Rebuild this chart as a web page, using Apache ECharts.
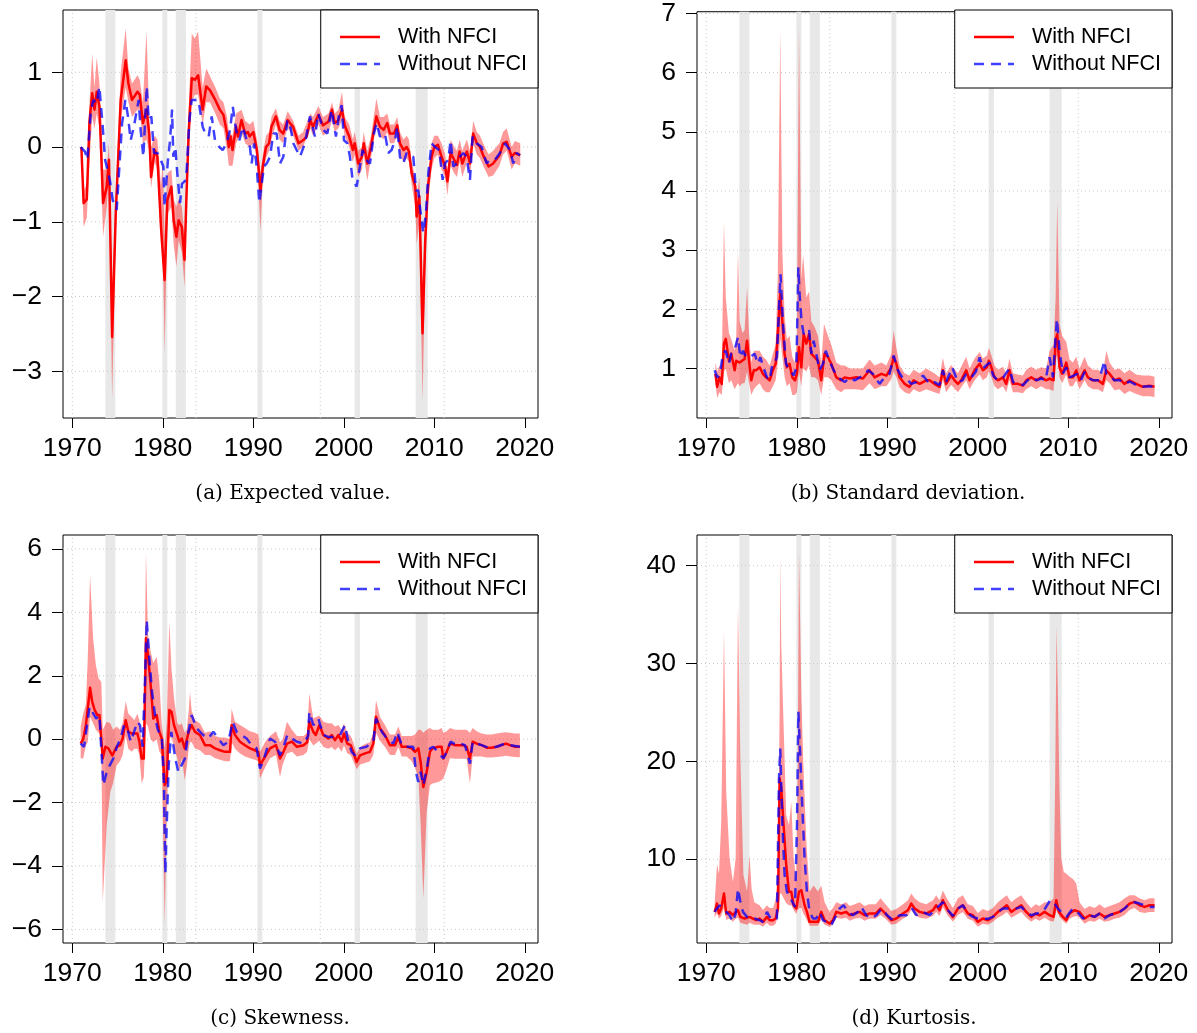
<!DOCTYPE html>
<html>
<head>
<meta charset="utf-8">
<script src="https://cdn.jsdelivr.net/npm/echarts@6/dist/echarts.min.js"></script>
<style>
html,body{margin:0;padding:0;background:#fff;}
#chart{width:1197px;height:1033px;}
</style>
</head>
<body>
<div id="chart"></div>
<script>
// ---------------- data ----------------
const recessions = [[1973.65,1974.75],[1979.95,1980.5],[1981.43,1982.55],[1990.45,1991.0],[2001.2,2001.78],[2007.94,2009.27]];
const xTicks = [1970,1980,1990,2000,2010,2020];
const vGridYears = [1970,1983.65,1997.4,2011.1];
const legendNames = ['With NFCI','Without NFCI'];
const captions = ['(a) Expected value.','(b) Standard deviation.','(c) Skewness.','(d) Kurtosis.'];

// (a) Expected value
const yTicksA = [-3,-2,-1,0,1];
const withA = [[1971.0,0.0],[1971.25,-0.75],[1971.6,-0.70],[1971.9,0.35],[1972.2,0.72],[1972.45,0.5],[1972.7,0.74],[1973.0,0.54],[1973.4,-0.75],[1973.8,-0.53],[1974.05,-0.17],[1974.4,-2.54],[1974.8,-0.89],[1975.35,0.63],[1975.9,1.16],[1976.2,0.85],[1976.6,0.63],[1977.2,0.74],[1977.45,0.70],[1977.8,0.32],[1978.2,0.5],[1978.5,0.18],[1978.7,-0.40],[1979.1,-0.04],[1979.4,-0.13],[1979.8,-1.07],[1980.0,-1.07],[1980.2,-1.78],[1980.5,-0.71],[1980.95,-0.53],[1981.2,-0.98],[1981.5,-1.2],[1981.75,-0.98],[1982.1,-1.07],[1982.4,-1.51],[1982.6,-0.71],[1982.85,0.18],[1983.2,0.92],[1983.55,0.9],[1983.9,0.96],[1984.4,0.5],[1984.8,0.81],[1985.2,0.76],[1985.8,0.63],[1986.3,0.5],[1986.7,0.43],[1987.1,0.18],[1987.3,0.0],[1987.5,0.14],[1987.7,-0.04],[1988.1,0.27],[1988.3,0.14],[1988.7,0.36],[1989.1,0.18],[1989.4,0.2],[1989.6,0.14],[1990.0,0.2],[1990.4,-0.04],[1990.8,-0.58],[1991.05,-0.26],[1991.4,0.0],[1991.75,0.05],[1992.0,0.27],[1992.5,0.41],[1992.9,0.23],[1993.3,0.18],[1993.8,0.36],[1994.05,0.32],[1994.4,0.27],[1995.0,0.05],[1995.5,0.09],[1995.9,0.14],[1996.3,0.36],[1996.6,0.27],[1997.2,0.43],[1997.7,0.29],[1998.3,0.34],[1998.7,0.5],[1999.0,0.32],[1999.4,0.36],[1999.8,0.5],[2000.1,0.29],[2000.6,0.14],[2001.0,-0.04],[2001.2,0.05],[2001.6,-0.22],[2002.0,-0.13],[2002.2,0.05],[2002.6,-0.22],[2003.0,0.0],[2003.6,0.41],[2004.0,0.27],[2004.4,0.23],[2004.8,0.32],[2005.1,0.18],[2005.55,0.18],[2005.9,0.29],[2006.2,0.05],[2006.6,-0.04],[2006.95,0.0],[2007.2,-0.06],[2007.5,-0.35],[2007.9,-0.53],[2008.05,-0.93],[2008.35,-0.66],[2008.7,-2.49],[2009.0,-1.24],[2009.3,-0.53],[2009.7,-0.13],[2010.0,0.0],[2010.4,0.03],[2010.8,-0.13],[2011.2,-0.26],[2011.45,-0.46],[2011.8,-0.08],[2012.2,-0.17],[2012.5,-0.24],[2012.8,-0.06],[2013.1,-0.22],[2013.6,-0.06],[2013.95,-0.22],[2014.3,0.18],[2014.7,0.05],[2015.05,0.0],[2015.4,-0.11],[2016.0,-0.26],[2016.5,-0.22],[2017.2,-0.11],[2017.6,0.05],[2018.0,0.07],[2018.55,-0.13],[2018.9,-0.08],[2019.5,-0.11]];
const bandA = [[1971.0,-0.1,0.05],[1971.25,-1.07,-0.58],[1971.6,-0.95,-0.5],[1971.9,-0.2,0.6],[1972.2,0.4,1.25],[1972.45,0.25,0.8],[1972.7,0.45,1.2],[1973.0,0.25,0.85],[1973.4,-1.2,-0.3],[1973.8,-0.8,-0.3],[1974.05,-0.4,0.05],[1974.4,-3.38,-2.0],[1974.8,-1.1,-0.6],[1975.35,0.35,1.0],[1975.9,0.8,1.59],[1976.2,0.6,1.05],[1976.6,0.4,0.85],[1977.2,0.5,0.96],[1977.45,0.5,0.9],[1977.8,0.05,0.6],[1978.2,0.1,1.56],[1978.5,-0.05,0.4],[1978.7,-0.55,0.0],[1979.1,-0.2,0.15],[1979.4,-0.3,0.1],[1979.8,-1.3,-0.5],[1980.0,-1.3,-0.2],[1980.2,-2.76,-1.2],[1980.5,-0.9,-0.35],[1980.95,-0.8,-0.3],[1981.2,-1.3,-0.7],[1981.5,-1.6,-0.8],[1981.75,-1.25,-0.7],[1982.1,-1.4,-0.8],[1982.4,-1.87,-1.2],[1982.6,-1.0,-0.4],[1982.85,-0.1,0.5],[1983.2,0.6,1.52],[1983.55,0.7,1.45],[1983.9,0.7,1.55],[1984.4,0.3,0.8],[1984.8,0.6,1.05],[1985.2,0.6,0.95],[1985.8,0.45,0.8],[1986.3,0.3,0.65],[1986.7,0.25,0.6],[1987.1,-0.05,0.4],[1987.3,-0.25,0.2],[1987.7,-0.25,0.15],[1988.1,0.05,0.45],[1988.7,0.2,0.5],[1989.1,0.05,0.35],[1989.6,0.0,0.3],[1990.0,0.05,0.35],[1990.4,-0.15,0.1],[1990.8,-1.13,-0.35],[1991.05,-0.4,-0.1],[1991.4,-0.15,0.15],[1991.75,-0.05,0.2],[1992.0,0.1,0.4],[1992.5,0.3,0.52],[1992.9,0.1,0.35],[1993.3,0.05,0.3],[1993.8,0.25,0.48],[1994.4,0.15,0.35],[1995.0,-0.05,0.15],[1995.5,0.0,0.2],[1996.3,0.25,0.45],[1996.6,0.15,0.4],[1997.2,0.3,0.55],[1997.7,0.15,0.4],[1998.3,0.2,0.45],[1998.7,0.35,0.6],[1999.0,0.2,0.45],[1999.4,0.25,0.5],[1999.8,0.35,0.74],[2000.1,0.15,0.4],[2000.6,0.0,0.3],[2001.0,-0.2,0.1],[2001.2,-0.1,0.2],[2001.6,-0.4,-0.05],[2002.0,-0.3,0.0],[2002.2,-0.1,0.2],[2002.6,-0.45,-0.05],[2003.0,-0.15,0.15],[2003.6,0.3,0.65],[2004.0,0.15,0.4],[2004.4,0.1,0.4],[2004.8,0.2,0.45],[2005.1,0.05,0.3],[2005.55,0.05,0.3],[2005.9,0.15,0.4],[2006.2,-0.1,0.2],[2006.6,-0.2,0.1],[2006.95,-0.15,0.15],[2007.2,-0.2,0.1],[2007.5,-0.5,-0.2],[2007.9,-0.8,-0.4],[2008.05,-1.3,-0.7],[2008.35,-1.0,-0.4],[2008.7,-3.4,-1.9],[2009.0,-1.6,-1.0],[2009.3,-0.75,-0.35],[2009.7,-0.3,0.05],[2010.0,-0.15,0.15],[2010.4,-0.1,0.15],[2010.8,-0.3,0.05],[2011.2,-0.4,-0.1],[2011.45,-0.65,-0.3],[2011.8,-0.25,0.1],[2012.2,-0.35,0.0],[2012.5,-0.4,-0.05],[2012.8,-0.2,0.1],[2013.1,-0.4,-0.05],[2013.6,-0.2,0.1],[2013.95,-0.4,-0.05],[2014.3,0.05,0.35],[2014.7,-0.1,0.2],[2015.05,-0.15,0.15],[2015.4,-0.25,0.05],[2016.0,-0.4,-0.1],[2016.5,-0.38,-0.05],[2017.2,-0.25,0.05],[2017.6,-0.1,0.2],[2018.0,-0.05,0.25],[2018.55,-0.3,0.0],[2018.9,-0.22,0.08],[2019.5,-0.25,0.05]];
const withoutA = [[1970.92,0.0],[1971.4,-0.06],[1971.66,-0.17],[1972.03,0.45],[1972.32,0.63],[1972.69,0.58],[1972.99,0.81],[1973.36,0.27],[1973.62,-0.17],[1973.8,-0.26],[1974.17,-0.46],[1974.46,-0.71],[1974.9,-0.84],[1975.2,-0.26],[1975.5,0.32],[1975.86,0.63],[1976.15,0.41],[1976.45,0.09],[1976.8,0.27],[1977.33,0.63],[1977.55,0.23],[1977.85,-0.13],[1978.22,0.81],[1978.44,0.36],[1978.73,0.41],[1979.03,-0.08],[1979.4,-0.08],[1979.76,-0.17],[1980.06,-0.26],[1980.2,-0.8],[1980.35,-0.53],[1980.57,-0.17],[1980.8,0.09],[1981.02,0.5],[1981.16,-0.13],[1981.38,0.0],[1981.6,-0.35],[1981.9,-0.75],[1982.12,-0.49],[1982.42,-0.46],[1982.64,-0.31],[1982.94,0.36],[1983.19,0.63],[1983.56,0.63],[1983.93,0.63],[1984.41,0.27],[1984.7,0.18],[1985.07,0.14],[1985.4,0.41],[1985.77,0.09],[1986.25,0.0],[1986.62,-0.04],[1987.06,0.05],[1987.43,0.23],[1987.73,0.54],[1988.09,0.23],[1988.46,0.09],[1988.83,0.27],[1989.27,0.09],[1989.63,0.0],[1989.82,-0.22],[1990.08,0.05],[1990.37,-0.26],[1990.67,-0.75],[1990.89,-0.53],[1991.18,-0.26],[1991.48,-0.22],[1991.85,-0.13],[1992.21,0.18],[1992.58,0.18],[1992.95,-0.22],[1993.32,-0.13],[1993.76,0.36],[1994.13,0.25],[1994.42,0.05],[1995.16,-0.13],[1995.71,0.05],[1996.26,0.41],[1996.81,0.14],[1997.18,0.45],[1997.73,0.23],[1998.18,0.18],[1998.65,0.5],[1999.13,0.14],[1999.5,0.45],[1999.76,0.56],[2000.02,0.09],[2000.39,0.05],[2000.68,-0.13],[2000.97,-0.44],[2001.42,-0.53],[2001.78,-0.26],[2002.08,-0.04],[2002.45,-0.17],[2002.89,-0.22],[2003.33,0.18],[2003.63,0.32],[2003.99,0.14],[2004.55,0.18],[2004.92,-0.08],[2005.28,-0.04],[2005.65,0.09],[2005.91,0.27],[2006.2,-0.13],[2006.57,-0.22],[2006.94,-0.08],[2007.31,-0.13],[2007.68,-0.13],[2007.97,-0.58],[2008.23,-0.58],[2008.41,-0.8],[2008.78,-1.15],[2009.08,-0.89],[2009.34,-0.35],[2009.7,0.05],[2010.07,0.0],[2010.55,-0.04],[2010.92,-0.44],[2011.18,-0.22],[2011.55,-0.17],[2011.8,0.09],[2012.1,-0.26],[2012.47,-0.22],[2012.83,-0.13],[2013.2,-0.08],[2013.57,-0.13],[2013.94,-0.44],[2014.23,0.14],[2014.68,0.05],[2015.23,0.0],[2015.78,-0.22],[2016.15,-0.17],[2016.7,-0.17],[2017.25,-0.08],[2017.81,0.05],[2018.36,-0.04],[2018.73,-0.22],[2019.1,-0.08],[2019.46,-0.11]];

// (b) Standard deviation
const yTicksB = [1,2,3,4,5,6,7];
const withB = [[1971.0,0.91],[1971.2,0.69],[1971.45,0.85],[1971.7,0.74],[1971.95,1.42],[1972.15,1.5],[1972.5,1.13],[1972.75,1.25],[1973.13,0.97],[1973.3,1.13],[1973.68,1.1],[1974.23,1.16],[1974.5,1.47],[1974.72,1.13],[1974.97,0.8],[1975.25,0.97],[1975.5,0.97],[1975.9,1.02],[1976.25,0.91],[1976.6,0.85],[1977.0,0.8],[1977.35,0.97],[1977.66,1.08],[1977.9,1.58],[1978.17,2.26],[1978.4,1.81],[1978.65,1.25],[1978.9,1.02],[1979.2,1.08],[1979.5,0.85],[1979.8,0.8],[1980.0,0.91],[1980.24,1.36],[1980.5,1.02],[1980.76,1.58],[1981.05,1.42],[1981.35,1.58],[1981.6,1.25],[1981.97,1.19],[1982.34,1.13],[1982.7,0.8],[1983.07,1.25],[1983.45,1.19],[1983.81,1.08],[1984.36,0.85],[1984.9,0.8],[1985.29,0.85],[1985.85,0.83],[1986.58,0.85],[1987.3,0.83],[1988.04,0.97],[1988.6,0.85],[1989.34,0.91],[1989.9,0.88],[1990.44,1.02],[1990.7,1.19],[1991.0,1.08],[1991.36,0.85],[1991.91,0.74],[1992.45,0.69],[1992.9,0.8],[1993.57,0.74],[1994.3,0.8],[1994.67,0.8],[1995.2,0.74],[1995.77,0.69],[1996.14,0.97],[1996.5,0.74],[1997.06,0.88],[1997.43,0.8],[1997.8,0.74],[1998.17,0.8],[1998.72,0.97],[1999.09,0.8],[1999.64,0.97],[2000.2,1.08],[2000.56,0.97],[2001.0,1.02],[2001.22,1.13],[2001.5,1.02],[2001.85,0.85],[2002.22,0.8],[2002.77,0.85],[2003.14,0.74],[2003.5,0.97],[2003.88,0.74],[2004.43,0.74],[2004.98,0.71],[2005.35,0.8],[2005.9,0.85],[2006.46,0.8],[2007.0,0.85],[2007.56,0.8],[2007.93,0.83],[2008.37,0.8],[2008.6,1.47],[2008.78,1.58],[2009.03,1.02],[2009.33,0.91],[2009.77,1.1],[2010.14,0.85],[2010.5,0.85],[2010.88,0.97],[2011.24,0.8],[2011.8,0.97],[2012.17,0.85],[2012.72,0.8],[2013.27,0.8],[2013.82,0.74],[2014.2,0.97],[2014.56,0.91],[2015.1,0.8],[2015.66,0.83],[2016.2,0.74],[2016.77,0.8],[2017.5,0.74],[2018.24,0.69],[2018.98,0.71],[2019.53,0.69]];
const bandB = [[1971.0,0.75,1.1],[1971.2,0.5,0.95],[1971.45,0.6,1.05],[1971.7,0.55,1.0],[1971.95,0.95,3.49],[1972.15,1.0,2.2],[1972.5,0.75,1.6],[1972.75,0.8,1.5],[1973.13,0.65,1.3],[1973.3,0.7,1.5],[1973.5,0.75,2.99],[1973.68,0.7,1.8],[1974.0,0.75,1.6],[1974.23,0.75,1.65],[1974.5,0.95,2.37],[1974.72,0.75,1.6],[1974.97,0.55,1.1],[1975.25,0.65,1.3],[1975.5,0.7,1.3],[1975.9,0.75,1.3],[1976.25,0.65,1.2],[1976.6,0.6,1.15],[1977.0,0.6,1.05],[1977.35,0.7,1.25],[1977.66,0.8,1.4],[1977.9,1.1,2.6],[1978.17,1.5,6.72],[1978.4,1.2,3.0],[1978.65,0.85,1.9],[1978.9,0.7,1.5],[1979.2,0.75,1.55],[1979.5,0.55,1.2],[1979.8,0.55,1.1],[1980.0,0.6,1.5],[1980.24,0.95,6.77],[1980.5,0.7,2.5],[1980.7,1.0,2.93],[1981.05,0.95,2.2],[1981.35,1.05,2.3],[1981.6,0.85,1.8],[1981.97,0.85,1.7],[1982.34,0.8,1.55],[1982.7,0.55,1.1],[1983.0,0.85,1.75],[1983.45,0.85,1.55],[1983.81,0.8,1.4],[1984.36,0.65,1.1],[1984.9,0.6,1.05],[1985.29,0.65,1.05],[1985.85,0.65,1.0],[1986.58,0.65,1.0],[1987.3,0.63,1.0],[1988.04,0.75,1.15],[1988.6,0.65,1.05],[1989.34,0.7,1.1],[1989.9,0.7,1.05],[1990.44,0.82,1.25],[1990.7,0.95,1.64],[1991.0,0.85,1.35],[1991.36,0.68,1.05],[1991.91,0.6,0.92],[1992.45,0.57,0.88],[1992.9,0.65,0.98],[1993.57,0.6,0.92],[1994.3,0.65,1.0],[1995.2,0.6,0.92],[1995.77,0.57,0.85],[1996.14,0.8,1.18],[1996.5,0.6,0.92],[1997.06,0.72,1.06],[1997.8,0.6,0.92],[1998.72,0.8,1.2],[1999.09,0.65,1.0],[1999.64,0.8,1.17],[2000.2,0.9,1.28],[2000.56,0.8,1.17],[2001.0,0.85,1.22],[2001.22,0.95,1.35],[2001.5,0.85,1.22],[2001.85,0.7,1.05],[2002.22,0.65,0.98],[2002.77,0.7,1.03],[2003.14,0.6,0.92],[2003.5,0.8,1.17],[2003.88,0.6,0.92],[2004.43,0.6,0.9],[2004.98,0.58,0.88],[2005.35,0.65,0.98],[2005.9,0.7,1.03],[2006.46,0.65,0.98],[2007.0,0.7,1.02],[2007.56,0.65,1.0],[2007.93,0.65,1.3],[2008.37,0.62,1.4],[2008.6,1.1,2.2],[2008.78,1.25,3.83],[2009.03,0.85,1.75],[2009.33,0.75,1.55],[2009.77,0.9,1.45],[2010.14,0.7,1.15],[2010.5,0.7,1.1],[2010.88,0.8,1.2],[2011.24,0.65,1.0],[2011.8,0.8,1.2],[2012.17,0.7,1.05],[2012.72,0.65,0.98],[2013.27,0.65,0.98],[2013.82,0.6,0.92],[2014.2,0.8,1.3],[2014.56,0.75,1.1],[2015.1,0.63,0.98],[2015.66,0.65,1.0],[2016.2,0.57,0.92],[2016.77,0.62,0.98],[2017.5,0.57,0.9],[2018.24,0.53,0.88],[2018.98,0.53,0.88],[2019.53,0.52,0.86]];
const withoutB = [[1970.92,0.97],[1971.2,0.85],[1971.5,0.9],[1971.84,1.25],[1972.15,1.3],[1972.5,1.08],[1972.75,1.25],[1973.1,1.3],[1973.5,1.53],[1973.75,1.19],[1974.05,1.3],[1974.4,1.19],[1974.8,1.19],[1975.34,1.25],[1975.7,1.08],[1975.97,1.19],[1976.3,1.02],[1976.7,0.85],[1977.0,0.8],[1977.3,1.08],[1977.55,1.1],[1977.8,1.19],[1978.03,2.03],[1978.2,2.59],[1978.5,1.7],[1978.8,1.08],[1979.0,1.02],[1979.3,0.97],[1979.65,0.88],[1979.95,1.02],[1980.17,2.71],[1980.3,2.26],[1980.52,1.81],[1980.75,1.58],[1981.05,1.64],[1981.35,1.66],[1981.6,1.25],[1981.86,1.47],[1982.15,1.25],[1982.5,0.97],[1982.9,1.08],[1983.2,1.3],[1983.6,1.13],[1984.07,0.97],[1984.55,0.85],[1985.29,0.77],[1985.85,0.85],[1986.4,0.8],[1986.94,0.85],[1987.5,0.88],[1987.86,0.97],[1988.4,0.91],[1989.14,0.74],[1989.7,0.85],[1990.25,0.91],[1990.7,1.22],[1991.17,0.97],[1991.73,0.83],[1992.28,0.8],[1992.65,0.74],[1993.2,0.77],[1993.94,0.88],[1994.67,0.74],[1995.2,0.77],[1995.77,0.72],[1996.14,0.97],[1996.5,0.77],[1997.17,1.02],[1997.8,0.77],[1998.3,0.8],[1998.72,0.91],[1999.3,0.85],[1999.8,0.95],[2000.2,1.19],[2000.56,1.0],[2000.93,1.05],[2001.3,1.1],[2001.7,0.88],[2002.2,0.8],[2002.8,0.85],[2003.5,1.0],[2003.9,0.77],[2004.5,0.74],[2005.0,0.72],[2005.5,0.8],[2006.0,0.85],[2006.5,0.8],[2007.0,0.83],[2007.5,0.8],[2007.93,1.19],[2008.3,0.85],[2008.74,1.84],[2009.03,1.3],[2009.4,0.91],[2009.77,1.02],[2010.14,0.85],[2010.6,0.88],[2011.0,0.91],[2011.4,0.8],[2011.8,0.94],[2012.3,0.83],[2012.8,0.8],[2013.4,0.8],[2014.0,1.13],[2014.2,0.91],[2014.6,0.88],[2015.1,0.8],[2015.7,0.8],[2016.2,0.74],[2016.8,0.78],[2017.5,0.72],[2018.2,0.69],[2018.9,0.7],[2019.5,0.69]];

// (c) Skewness
const yTicksC = [-6,-4,-2,0,2,4,6];
const withC = [[1970.92,-0.14],[1971.2,0.0],[1971.5,0.44],[1971.7,0.39],[1971.96,1.62],[1972.2,1.18],[1972.47,0.92],[1972.76,0.76],[1973.0,0.76],[1973.2,0.76],[1973.36,-0.61],[1973.65,-0.24],[1973.98,-0.29],[1974.42,-0.51],[1974.9,-0.24],[1975.27,-0.19],[1975.56,0.02],[1975.9,0.6],[1976.19,0.23],[1976.56,0.18],[1976.85,0.18],[1977.19,0.18],[1977.41,-0.08],[1977.66,-0.61],[1977.9,-0.61],[1978.14,3.18],[1978.36,2.65],[1978.66,1.71],[1978.95,0.65],[1979.32,0.76],[1979.62,0.23],[1979.88,0.02],[1980.21,-1.45],[1980.43,-1.35],[1980.72,0.92],[1980.97,0.86],[1981.24,0.44],[1981.6,0.13],[1981.82,-0.08],[1982.1,0.02],[1982.42,-0.29],[1982.64,-0.24],[1982.86,0.23],[1983.19,0.44],[1983.56,0.23],[1984.1,0.13],[1984.66,-0.19],[1985.21,-0.19],[1985.77,-0.29],[1986.32,-0.35],[1986.88,-0.4],[1987.43,-0.4],[1987.6,0.44],[1987.98,0.13],[1988.53,-0.08],[1989.08,-0.19],[1989.63,-0.29],[1990.18,-0.35],[1990.55,-0.4],[1990.74,-0.82],[1991.29,-0.56],[1991.85,-0.29],[1992.51,-0.19],[1992.95,-0.61],[1993.25,-0.45],[1993.72,-0.14],[1994.27,-0.08],[1994.82,-0.24],[1995.55,-0.19],[1995.95,-0.1],[1996.19,0.55],[1996.63,0.23],[1996.9,0.13],[1997.3,0.44],[1997.74,0.13],[1998.29,0.02],[1998.66,0.13],[1999.03,-0.03],[1999.4,0.13],[1999.76,-0.08],[2000.02,0.18],[2000.39,-0.14],[2000.76,-0.19],[2001.05,-0.4],[2001.42,-0.72],[2001.79,-0.51],[2002.34,-0.45],[2002.89,-0.4],[2003.26,-0.14],[2003.56,0.71],[2004.0,0.34],[2004.55,0.13],[2005.1,-0.19],[2005.66,-0.19],[2006.03,0.07],[2006.4,-0.24],[2006.95,-0.24],[2007.5,-0.29],[2007.87,-0.4],[2008.24,-0.29],[2008.49,-0.72],[2008.79,-1.51],[2009.16,-1.03],[2009.52,-0.4],[2009.82,-0.29],[2010.44,-0.24],[2010.81,-0.24],[2011.0,-0.61],[2011.37,-0.4],[2011.73,-0.14],[2012.28,-0.19],[2012.84,-0.19],[2013.2,-0.19],[2013.57,-0.24],[2013.94,-0.61],[2014.24,-0.08],[2014.68,-0.14],[2015.23,-0.19],[2015.78,-0.27],[2016.34,-0.27],[2016.89,-0.24],[2017.44,-0.19],[2017.92,-0.14],[2018.36,-0.19],[2018.92,-0.24],[2019.46,-0.24]];
const bandC = [[1970.92,-0.6,0.4],[1971.2,-0.61,0.8],[1971.5,-0.2,1.1],[1971.7,-0.1,2.5],[1971.96,0.7,5.18],[1972.3,0.5,3.18],[1972.6,0.3,2.34],[1972.9,0.2,1.92],[1973.2,0.1,1.8],[1973.36,-5.14,0.3],[1973.8,-2.7,0.55],[1974.2,-1.66,0.5],[1974.5,-1.4,0.3],[1974.9,-0.82,0.4],[1975.27,-0.7,0.3],[1975.56,-0.5,0.5],[1975.9,0.1,1.2],[1976.19,-0.3,0.8],[1976.56,-0.4,0.7],[1976.85,-0.3,0.6],[1977.19,-0.3,0.8],[1977.41,-0.5,0.6],[1977.66,-1.4,-0.1],[1977.9,-1.2,0.5],[1978.14,0.5,5.92],[1978.36,0.4,3.3],[1978.66,0.0,2.76],[1978.95,-0.1,2.4],[1979.32,0.0,2.6],[1979.62,-0.4,1.8],[1979.88,-0.5,0.5],[1980.21,-5.87,-0.3],[1980.43,-2.5,0.5],[1980.72,0.0,3.7],[1980.97,0.1,2.2],[1981.24,-0.3,1.28],[1981.6,-0.6,0.5],[1981.82,-1.03,0.44],[1982.1,-0.6,0.5],[1982.42,-1.3,0.2],[1982.64,-0.9,0.3],[1982.86,-0.3,0.9],[1983.0,-0.1,1.5],[1983.19,-0.1,0.9],[1983.56,-0.3,0.6],[1984.1,-0.35,0.5],[1984.66,-0.5,0.2],[1985.21,-0.5,0.25],[1985.77,-0.6,0.1],[1986.32,-0.65,0.05],[1986.88,-0.7,0.05],[1987.43,-0.7,0.0],[1987.6,-0.1,0.97],[1987.98,-0.3,0.55],[1988.53,-0.45,0.45],[1989.08,-0.55,0.35],[1989.63,-0.6,0.25],[1990.18,-0.65,0.2],[1990.55,-0.7,0.15],[1990.74,-1.24,-0.4],[1991.29,-0.9,-0.1],[1991.85,-0.6,0.1],[1992.51,-0.5,0.25],[1992.95,-1.19,-0.1],[1993.25,-0.8,0.0],[1993.72,-0.45,0.55],[1994.27,-0.4,0.3],[1994.82,-0.55,0.1],[1995.55,-0.5,0.1],[1995.95,-0.4,0.2],[1996.19,0.0,1.44],[1996.63,-0.2,0.65],[1997.3,-0.05,0.75],[1997.74,-0.25,0.55],[1998.29,-0.3,0.5],[1998.66,-0.25,0.5],[1999.03,-0.35,0.4],[1999.4,-0.25,0.45],[1999.76,-0.4,0.3],[2000.02,-0.2,0.5],[2000.39,-0.45,0.2],[2000.76,-0.5,0.1],[2001.05,-0.7,-0.1],[2001.42,-0.95,-0.45],[2001.79,-0.8,-0.25],[2002.34,-0.75,-0.15],[2002.89,-0.7,-0.1],[2003.26,-0.5,0.2],[2003.56,0.2,1.23],[2004.0,-0.05,0.7],[2004.55,-0.25,0.45],[2005.1,-0.5,0.15],[2005.66,-0.5,0.15],[2006.03,-0.25,0.4],[2006.4,-0.55,0.1],[2006.95,-0.55,0.1],[2007.5,-0.7,0.1],[2007.87,-0.9,0.15],[2008.24,-1.2,0.3],[2008.49,-2.7,0.3],[2008.79,-5.03,0.2],[2009.16,-2.3,0.3],[2009.52,-1.45,0.35],[2009.82,-1.4,0.3],[2010.44,-1.35,0.3],[2010.81,-1.3,0.35],[2011.0,-1.24,0.2],[2011.37,-0.95,0.25],[2011.73,-0.6,0.35],[2012.28,-0.62,0.3],[2012.84,-0.62,0.3],[2013.2,-0.62,0.3],[2013.57,-0.62,0.3],[2013.94,-1.4,0.2],[2014.24,-0.55,0.35],[2014.68,-0.55,0.25],[2015.23,-0.55,0.18],[2015.78,-0.58,0.15],[2016.34,-0.58,0.15],[2016.89,-0.56,0.18],[2017.44,-0.55,0.2],[2017.92,-0.52,0.22],[2018.36,-0.55,0.2],[2018.92,-0.56,0.18],[2019.46,-0.57,0.18]];
const withoutC = [[1970.92,-0.14],[1971.3,-0.24],[1971.9,1.02],[1972.2,0.86],[1972.65,0.65],[1972.99,0.76],[1973.2,0.76],[1973.43,-1.45],[1973.8,-1.03],[1974.15,-0.82],[1974.53,-0.61],[1974.97,-0.2],[1975.34,0.02],[1975.71,0.44],[1976.08,0.34],[1976.45,-0.08],[1976.82,0.23],[1977.19,0.55],[1977.48,0.44],[1977.77,-0.24],[1978.03,1.81],[1978.22,3.76],[1978.51,2.55],[1978.81,1.49],[1979.14,0.76],[1979.4,0.34],[1979.69,0.13],[1979.9,0.02],[1980.13,-1.45],[1980.28,-4.24],[1980.43,-2.72],[1980.65,-0.82],[1980.94,0.23],[1981.16,-0.19],[1981.38,-0.61],[1981.71,-1.03],[1982.08,-0.82],[1982.45,-0.61],[1982.82,0.23],[1983.19,0.76],[1983.74,0.34],[1984.47,0.13],[1985.02,0.02],[1985.58,0.23],[1986.13,0.02],[1986.69,-0.19],[1987.24,-0.08],[1987.72,0.55],[1988.16,0.23],[1988.71,0.13],[1989.26,0.02],[1989.82,-0.19],[1990.37,-0.29],[1990.74,-0.93],[1991.18,-0.61],[1991.85,0.02],[1992.4,-0.08],[1992.95,-0.51],[1993.4,-0.19],[1993.76,0.13],[1994.27,0.02],[1994.82,-0.08],[1995.55,-0.14],[1996.06,0.1],[1996.19,0.86],[1996.63,0.44],[1997.18,0.65],[1997.74,0.13],[1998.29,0.07],[1998.84,0.07],[1999.58,0.13],[2000.13,0.44],[2000.5,-0.08],[2000.87,-0.4],[2001.23,-0.51],[2001.79,-0.29],[2002.5,-0.24],[2003.26,-0.08],[2003.56,0.65],[2004.2,0.23],[2004.74,0.02],[2005.47,-0.14],[2005.91,0.23],[2006.4,-0.19],[2006.94,-0.24],[2007.68,-0.24],[2007.97,-1.03],[2008.23,-1.35],[2008.49,-1.03],[2008.79,-1.45],[2009.23,-0.82],[2009.52,-0.29],[2009.89,-0.24],[2011.0,-0.61],[2011.37,-0.4],[2011.8,-0.08],[2012.47,-0.19],[2012.9,-0.14],[2013.39,-0.19],[2013.94,-0.77],[2014.24,-0.08],[2014.68,-0.14],[2015.23,-0.19],[2015.97,-0.27],[2016.89,-0.24],[2017.81,-0.14],[2018.36,-0.19],[2019.46,-0.24]];

// (d) Kurtosis
const yTicksD = [10,20,30,40];
const withD = [[1970.92,4.61],[1971.18,5.46],[1971.4,4.44],[1971.65,4.95],[1971.95,6.49],[1972.2,4.44],[1972.57,4.61],[1972.94,4.27],[1973.24,4.6],[1973.5,4.78],[1973.76,4.1],[1974.23,3.93],[1974.78,4.1],[1975.15,3.93],[1975.52,3.76],[1975.89,3.93],[1976.26,3.59],[1976.7,4.1],[1977.0,3.76],[1977.37,3.76],[1977.66,3.93],[1977.92,4.95],[1978.1,18.25],[1978.28,17.22],[1978.54,13.47],[1978.83,9.38],[1979.13,6.66],[1979.39,6.66],[1979.65,5.29],[1979.94,4.95],[1980.24,6.66],[1980.5,6.83],[1980.86,5.29],[1981.12,4.61],[1981.41,3.59],[1981.86,3.59],[1982.34,3.59],[1982.7,4.61],[1983.07,3.76],[1983.62,3.42],[1983.99,3.76],[1984.36,4.61],[1984.91,4.44],[1985.46,4.61],[1985.84,4.27],[1986.39,4.44],[1986.94,4.61],[1987.49,4.27],[1987.99,4.44],[1988.71,4.44],[1989.25,4.95],[1989.8,4.44],[1990.44,3.76],[1990.99,3.93],[1991.73,4.44],[1992.28,4.78],[1992.65,5.46],[1993.02,4.95],[1993.57,4.61],[1994.3,4.44],[1995.05,4.78],[1995.4,5.29],[1995.77,4.78],[1996.14,5.8],[1996.7,4.78],[1997.25,4.1],[1997.8,4.95],[1998.35,5.29],[1998.9,4.44],[1999.46,4.27],[2000.0,3.59],[2000.56,3.93],[2001.12,3.76],[2001.67,4.1],[2002.22,4.61],[2002.77,4.95],[2003.2,5.29],[2003.7,4.61],[2004.25,4.95],[2004.8,5.29],[2005.35,4.61],[2005.9,4.1],[2006.38,4.44],[2006.83,4.27],[2007.38,4.61],[2007.93,4.27],[2008.37,4.1],[2008.67,5.8],[2008.96,4.61],[2009.4,4.1],[2009.77,3.76],[2010.14,4.44],[2010.69,4.78],[2011.24,4.61],[2011.8,3.93],[2012.35,4.27],[2012.9,4.1],[2013.45,4.44],[2014.0,4.1],[2014.56,4.27],[2015.11,4.44],[2015.66,4.61],[2016.22,4.95],[2016.77,5.46],[2017.32,5.63],[2017.88,5.29],[2018.43,5.12],[2018.98,5.29],[2019.53,5.29]];
const bandD = [[1970.92,4.0,5.5],[1971.18,4.5,9.5],[1971.4,3.9,8.5],[1971.65,4.2,14.0],[1971.95,5.0,33.4],[1972.2,3.8,16.9],[1972.57,3.9,10.1],[1972.94,3.6,7.7],[1973.24,3.9,10.1],[1973.5,4.0,36.15],[1973.76,3.5,20.3],[1974.1,3.4,8.4],[1974.5,3.3,6.7],[1974.78,3.5,10.4],[1975.0,3.4,7.0],[1975.3,3.3,5.6],[1975.89,3.3,5.3],[1976.26,3.1,4.8],[1976.7,3.5,5.3],[1977.0,3.2,5.0],[1977.37,3.2,5.0],[1977.66,3.4,5.9],[1977.92,4.2,9.0],[1978.1,6.0,25.0],[1978.17,6.5,41.1],[1978.28,6.5,32.0],[1978.54,6.0,23.7],[1978.83,5.5,14.5],[1979.13,5.3,13.5],[1979.39,5.3,15.9],[1979.65,4.8,10.1],[1979.94,4.4,8.0],[1980.1,4.8,20.0],[1980.24,5.0,41.4],[1980.5,5.0,27.0],[1980.7,4.5,20.3],[1981.05,3.9,11.8],[1981.41,3.2,6.7],[1981.86,3.2,7.3],[1982.34,3.2,6.7],[1982.7,3.8,7.3],[1983.07,3.3,5.6],[1983.62,3.1,4.6],[1983.99,3.3,5.0],[1984.36,4.0,5.6],[1984.91,3.9,5.4],[1985.46,4.0,5.6],[1985.84,3.7,5.2],[1986.39,3.9,5.4],[1986.94,4.0,5.6],[1987.49,3.7,5.2],[1987.99,3.9,5.4],[1988.71,3.9,5.4],[1989.25,4.3,6.0],[1989.8,3.9,5.4],[1990.44,3.3,4.7],[1990.99,3.4,4.9],[1991.73,3.9,5.4],[1992.28,4.2,5.8],[1992.65,4.8,6.5],[1993.02,4.3,6.0],[1993.57,4.0,5.6],[1994.3,3.9,5.4],[1995.05,4.2,5.8],[1995.4,4.6,6.3],[1995.77,4.2,5.8],[1996.14,5.1,6.8],[1996.7,4.2,5.8],[1997.25,3.6,5.0],[1997.8,4.3,6.0],[1998.35,4.6,6.3],[1998.9,3.9,5.4],[1999.46,3.7,5.2],[2000.0,3.1,4.5],[2000.56,3.4,4.9],[2001.12,3.3,4.7],[2001.67,3.6,5.0],[2002.22,4.0,5.6],[2002.77,4.3,6.0],[2003.2,4.6,6.3],[2003.7,4.0,5.6],[2004.25,4.3,6.0],[2004.8,4.6,6.3],[2005.35,4.0,5.6],[2005.9,3.6,5.0],[2006.38,3.9,5.4],[2006.83,3.7,5.2],[2007.38,4.0,5.6],[2007.93,3.7,5.6],[2008.37,3.6,6.0],[2008.55,4.2,18.0],[2008.7,4.8,33.9],[2008.85,4.5,27.1],[2009.03,4.1,16.9],[2009.22,3.9,10.1],[2009.5,3.6,8.7],[2009.8,3.4,8.5],[2010.14,3.9,8.2],[2010.5,4.1,8.0],[2010.88,4.2,7.5],[2011.24,4.0,5.6],[2011.8,3.4,4.9],[2012.35,3.7,5.2],[2012.9,3.6,5.0],[2013.45,3.9,5.4],[2014.0,3.6,5.0],[2014.56,3.7,5.2],[2015.11,3.9,5.4],[2015.66,4.0,5.6],[2016.22,4.3,6.0],[2016.77,4.8,6.3],[2017.32,5.0,6.3],[2017.88,4.6,6.0],[2018.43,4.5,5.8],[2018.98,4.6,6.0],[2019.53,4.6,6.0]];
const withoutD = [[1970.92,4.61],[1971.18,4.95],[1971.47,5.29],[1971.8,4.95],[1972.2,4.61],[1972.57,4.27],[1972.94,3.59],[1973.24,4.44],[1973.5,7.0],[1973.76,5.63],[1974.05,4.61],[1974.49,4.1],[1974.78,3.93],[1975.34,3.93],[1975.89,3.76],[1976.26,3.59],[1976.7,4.61],[1977.0,4.1],[1977.37,3.76],[1977.8,3.93],[1978.03,18.25],[1978.17,21.3],[1978.4,13.5],[1978.65,8.4],[1978.9,6.66],[1979.2,6.3],[1979.5,5.63],[1979.8,5.12],[1980.02,13.5],[1980.17,25.1],[1980.39,20.3],[1980.61,15.2],[1980.86,10.1],[1981.12,6.66],[1981.41,4.61],[1981.79,3.93],[1982.15,3.93],[1982.52,4.61],[1982.9,3.76],[1983.25,3.59],[1983.8,3.24],[1984.18,3.93],[1984.73,4.95],[1985.17,5.29],[1985.65,4.61],[1986.2,4.27],[1986.75,4.61],[1987.12,5.12],[1987.67,4.27],[1988.2,3.93],[1988.8,4.27],[1989.36,4.95],[1989.98,4.27],[1990.62,3.76],[1991.36,4.27],[1992.1,4.27],[1992.76,4.95],[1993.2,4.27],[1993.94,4.61],[1994.67,4.27],[1995.4,4.95],[1996.14,5.6],[1996.7,4.78],[1997.25,4.2],[1997.8,4.95],[1998.35,5.29],[1998.9,4.44],[1999.46,4.1],[2000.0,3.93],[2000.56,3.93],[2001.12,3.9],[2001.67,4.1],[2002.22,4.61],[2002.77,4.95],[2003.5,4.95],[2004.25,4.95],[2004.8,5.12],[2005.35,4.61],[2005.9,4.27],[2006.5,4.44],[2007.2,4.61],[2008.0,5.8],[2008.37,5.63],[2008.85,4.95],[2009.22,4.61],[2009.8,4.1],[2010.5,4.95],[2011.0,4.61],[2011.6,3.93],[2012.35,4.27],[2012.9,4.1],[2013.45,4.44],[2014.0,3.93],[2014.56,4.27],[2015.11,4.44],[2015.66,4.61],[2016.22,4.95],[2016.77,5.46],[2017.2,5.63],[2017.88,5.46],[2018.43,5.29],[2018.98,5.12],[2019.53,5.12]];

// ---------------- layout / style ----------------
const X_MIN = 1968.97, X_MAX = 2021.46;
const panels = [
  {grid:{left:63, top:10}, yr:[-3.625,1.833], ticks:yTicksA, w:withA, wo:withoutA, band:bandA, cap:[293,494]},
  {grid:{left:697, top:10}, yr:[0.163,7.03], ticks:yTicksB, w:withB, wo:withoutB, band:bandB, cap:[908,494]},
  {grid:{left:63, top:535}, yr:[-6.43,6.44], ticks:yTicksC, w:withC, wo:withoutC, band:bandC, cap:[280,1019]},
  {grid:{left:697, top:535}, yr:[1.43,43.14], ticks:yTicksD, w:withD, wo:withoutD, band:bandD, cap:[914,1019]}
];
const FONT = '"Liberation Sans", Arial, Helvetica, sans-serif';
const fmt = v => (v < 0 ? '\u2212' + Math.abs(v) : String(v));
const RED = '#ff0000', BLUE = 'rgba(0,0,255,0.75)';

const option = {
  animation: false,
  backgroundColor: '#fff',
  grid: [], xAxis: [], yAxis: [], series: [], legend: [], graphic: []
};

panels.forEach((p, i) => {
  option.grid.push({left:p.grid.left, top:p.grid.top, width:475, height:408, show:true,
    borderColor:'#000', borderWidth:1, backgroundColor:'transparent', containLabel:false});
  option.xAxis.push({gridIndex:i, type:'value', min:X_MIN, max:X_MAX,
    axisLine:{show:false, onZero:false}, splitLine:{show:false},
    axisTick:{show:true, customValues:xTicks, length:10, lineStyle:{color:'#000', width:1}},
    axisLabel:{customValues:xTicks, formatter:v=>String(v), fontSize:26.5, color:'#000', fontFamily:FONT, margin:17}});
  option.yAxis.push({gridIndex:i, type:'value', min:p.yr[0], max:p.yr[1],
    axisLine:{show:false, onZero:false}, splitLine:{show:false},
    axisTick:{show:true, customValues:p.ticks, length:11, lineStyle:{color:'#000', width:1}},
    axisLabel:{customValues:p.ticks, formatter:fmt, fontSize:26.5, color:'#000', fontFamily:FONT, margin:21}});

  // recession shading
  option.series.push({type:'custom', xAxisIndex:i, yAxisIndex:i, z:1, silent:true,
    data: recessions.map(r => [r[0], p.yr[0], r[1]]),
    encode:{x:[0,2], y:1},
    renderItem:(params, api) => {
      const a = api.coord([api.value(0), p.yr[1]]);
      const b = api.coord([api.value(2), p.yr[0]]);
      return {type:'rect', shape:{x:a[0], y:a[1], width:b[0]-a[0], height:b[1]-a[1]}, style:{fill:'#e8e8e8'}};
    }});
  // dotted grid lines
  const gl = vGridYears.map(v => [v, p.yr[0], 0]).concat(p.ticks.map(v => [X_MIN, v, 1]));
  option.series.push({type:'custom', xAxisIndex:i, yAxisIndex:i, z:2, silent:true,
    data: gl, encode:{x:0, y:1},
    renderItem:(params, api) => {
      let a, b;
      if (api.value(2) === 0) { a = api.coord([api.value(0), p.yr[0]]); b = api.coord([api.value(0), p.yr[1]]); }
      else { a = api.coord([X_MIN, api.value(1)]); b = api.coord([X_MAX, api.value(1)]); }
      return {type:'line', shape:{x1:a[0], y1:a[1], x2:b[0], y2:b[1]},
        style:{stroke:'#c8c8c8', lineWidth:1, lineDash:[1,3]}};
    }});
  // uncertainty band
  option.series.push({type:'custom', xAxisIndex:i, yAxisIndex:i, z:3, silent:true,
    data:[[p.band[0][0], p.band[0][1]]], encode:{x:0, y:1},
    renderItem:(params, api) => {
      const up = p.band.map(d => api.coord([d[0], d[2]]));
      const lo = p.band.slice().reverse().map(d => api.coord([d[0], d[1]]));
      return {type:'polygon', shape:{points:up.concat(lo)}, style:{fill:'rgba(255,0,0,0.4)'}};
    }});
  option.series.push({type:'line', name:'With NFCI', xAxisIndex:i, yAxisIndex:i, z:4, data:p.w,
    showSymbol:false, symbol:'none', silent:true,
    itemStyle:{color:RED}, lineStyle:{color:RED, width:2.5, join:'round'}});
  option.series.push({type:'line', name:'Without NFCI', xAxisIndex:i, yAxisIndex:i, z:5, data:p.wo,
    showSymbol:false, symbol:'none', silent:true,
    itemStyle:{color:BLUE}, lineStyle:{color:BLUE, width:2.5, type:[10,7]}});

  option.legend.push({orient:'vertical', right:(i % 2 === 0 ? 659 : 25), top:p.grid.top,
    padding:[16,11,13,18], itemWidth:40, itemHeight:20, itemGap:5,
    backgroundColor:'#fff', borderColor:'#000', borderWidth:1, borderRadius:0,
    selectedMode:false, z:10,
    itemStyle:{opacity:0, borderWidth:0},
    textStyle:{fontSize:21.5, fontFamily:FONT, color:'#000', padding:[0,0,0,13]},
    data:[
      {name:legendNames[0], itemStyle:{opacity:0, borderWidth:0}, lineStyle:{color:RED, width:2.5, type:'solid', opacity:1}},
      {name:legendNames[1], itemStyle:{opacity:0, borderWidth:0}, lineStyle:{color:BLUE, width:2.5, type:[10,7], opacity:1}}
    ]});

  option.graphic.push({type:'text', x:p.cap[0], y:p.cap[1], silent:true,
    style:{text:captions[i], fontSize:20, fontFamily:'"DejaVu Serif", serif', fill:'#000',
      align:'center', verticalAlign:'middle'}});
});

const chart = echarts.init(document.getElementById('chart'), null, {renderer:'canvas'});
chart.setOption(option);
</script>
</body>
</html>
